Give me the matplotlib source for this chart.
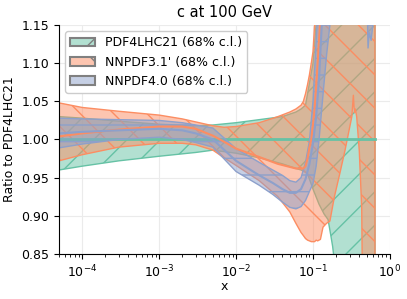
import matplotlib
matplotlib.use("Agg")
import matplotlib.pyplot as plt
from matplotlib.patches import Patch

# couleurs (palette Set2)
VERT = "#66c2a5"
ORANGE = "#fc8d62"
BLEU = "#8da0cb"

# PDF4LHC21
x_pdf4lhc = [5e-5, 1e-4, 3e-4, 1e-3, 3e-3, 5e-3, 1e-2, 2e-2, 4e-2, 6e-2, 7e-2,
             8e-2, 8.5e-2, 0.1, 0.12, 0.14, 0.157, 0.17, 0.18, 0.19, 0.3, 0.5, 0.64]
pdf4lhc_cv = [1.0] * len(x_pdf4lhc)
pdf4lhc_lo = [0.96, 0.965, 0.972, 0.978, 0.983, 0.986, 0.982, 0.976, 0.968, 0.962, 0.96,
              0.957, 0.955, 0.935, 0.915, 0.902, 0.895, 0.875, 0.86, 0.84, 0.7, 0.7, 0.7]
pdf4lhc_hi = [1.03, 1.028, 1.024, 1.02, 1.018, 1.019, 1.022, 1.026, 1.03, 1.036, 1.04,
              1.045, 1.06, 1.1, 1.2, 1.4, 1.4, 1.4, 1.4, 1.4, 1.4, 1.4, 1.4]

# NNPDF3.1'
x_nnpdf31 = [5e-5, 1e-4, 3e-4, 1e-3, 2e-3, 3e-3, 5e-3, 7e-3, 1e-2, 2e-2, 3.5e-2, 5e-2,
             6e-2, 7e-2, 7.5e-2, 8e-2, 8.5e-2, 9e-2, 9.5e-2, 0.1, 0.105, 0.11, 0.115,
             0.125, 0.135, 0.15, 0.166, 0.19, 0.224, 0.26, 0.3, 0.32, 0.335, 0.345,
             0.355, 0.37, 0.4, 0.43, 0.45, 0.64]
nnpdf31_cv = [1.004, 1.008, 1.013, 1.017, 1.017, 1.014, 1.005, 0.997, 0.988, 0.977,
              0.968, 0.964, 0.962, 0.962, 0.962, 0.965, 0.975, 0.99, 1.0, 1.02, 1.04,
              1.07, 1.1, 1.16, 1.25, 1.3, 1.3, 1.3, 1.3, 1.3, 1.3, 1.3, 1.3, 1.3,
              1.3, 1.3, 1.3, 1.3, 1.3, 1.3]
nnpdf31_lo = [0.972, 0.98, 0.99, 0.995, 0.995, 0.993, 0.986, 0.976, 0.966, 0.946, 0.925,
              0.905, 0.89, 0.878, 0.874, 0.87, 0.868, 0.867, 0.866, 0.866, 0.866, 0.868,
              0.867, 0.869, 0.885, 0.89, 0.893, 0.925, 0.956, 0.985, 1.016, 1.03, 1.058,
              1.035, 1.04, 1.03, 0.985, 0.91, 0.7, 0.7]
nnpdf31_hi = [1.048, 1.042, 1.037, 1.032, 1.027, 1.023, 1.018, 1.016, 1.017, 1.022,
              1.03, 1.036, 1.04, 1.045, 1.05, 1.06, 1.072, 1.085, 1.1, 1.115, 1.15,
              1.2, 1.3, 1.3, 1.3, 1.3, 1.3, 1.3, 1.3, 1.3, 1.3, 1.3, 1.3, 1.3, 1.3,
              1.3, 1.3, 1.3, 1.3, 1.3]

# NNPDF4.0
x_nnpdf40 = [5e-5, 1e-4, 3e-4, 1e-3, 2e-3, 3e-3, 5e-3, 1e-2, 2e-2, 3e-2, 4e-2, 5e-2,
             6e-2, 7e-2, 8e-2, 9e-2, 0.1, 0.11, 0.12, 0.13, 0.15, 0.17, 0.3, 0.5,
             0.52, 0.54, 0.57, 0.6, 0.62, 0.64]
nnpdf40_cv = [1.008, 1.01, 1.012, 1.014, 1.012, 1.008, 1.0, 0.972, 0.953, 0.943, 0.935,
              0.93, 0.93, 0.935, 0.948, 0.968, 0.995, 1.03, 1.08, 1.15, 1.3, 1.3, 1.3,
              1.3, 1.3, 1.3, 1.3, 1.3, 1.3, 1.3]
nnpdf40_lo = [0.989, 0.994, 1.0, 1.003, 1.0, 0.996, 0.99, 0.958, 0.94, 0.928, 0.918,
              0.911, 0.909, 0.912, 0.92, 0.932, 0.942, 0.965, 1.0, 1.04, 1.11, 1.16,
              1.3, 1.2, 1.12, 1.14, 1.13, 1.15, 1.25, 1.3]
nnpdf40_hi = [1.028, 1.027, 1.026, 1.025, 1.022, 1.019, 1.015, 0.988, 0.97, 0.96, 0.953,
              0.946, 0.944, 0.95, 0.97, 0.998, 1.05, 1.13, 1.2, 1.3, 1.4, 1.4, 1.4,
              1.4, 1.4, 1.4, 1.4, 1.4, 1.4, 1.4]

y_ticks = [0.85, 0.90, 0.95, 1.00, 1.05, 1.10, 1.15]


def bande(ax, x, lo, hi, couleur, hachure, z):
    ax.fill_between(x, lo, hi, facecolor=matplotlib.colors.to_rgba(couleur, 0.5),
                    edgecolor=couleur, hatch=hachure, linewidth=1.0, zorder=z)


fig = plt.figure(figsize=(4.07, 2.99), dpi=100)
ax = fig.add_axes([0.145, 0.151, 0.813, 0.765])

bande(ax, x_pdf4lhc, pdf4lhc_lo, pdf4lhc_hi, VERT, "/", 1.0)
bande(ax, x_nnpdf31, nnpdf31_lo, nnpdf31_hi, ORANGE, "\\", 1.1)
ax.plot(x_pdf4lhc, pdf4lhc_cv, color=VERT, lw=2.0, zorder=1.5)
bande(ax, x_nnpdf40, nnpdf40_lo, nnpdf40_hi, BLEU, "-", 1.6)
ax.plot(x_nnpdf31, nnpdf31_cv, color=ORANGE, lw=1.5, zorder=1.7)
ax.plot(x_nnpdf40, nnpdf40_cv, color=BLEU, lw=1.5, zorder=1.8)

ax.set_xscale("log")
ax.set_xlim(5e-5, 1)
ax.set_ylim(0.85, 1.15)
ax.set_yticks(y_ticks)
ax.set_yticklabels([f"{v:.2f}" for v in y_ticks])
ax.grid(True, which="major", color="#ebebeb", lw=0.8, zorder=0)
ax.set_axisbelow(True)
for s in ["top", "right"]:
    ax.spines[s].set_visible(False)
ax.tick_params(labelsize=9)

ax.set_title("c at 100 GeV", fontsize=10.5)
ax.set_xlabel("x", fontsize=9, labelpad=0)
ax.set_ylabel("Ratio to PDF4LHC21", fontsize=9)

legende = [
    Patch(facecolor=matplotlib.colors.to_rgba(VERT, 0.5), edgecolor="gray", hatch="/",
          lw=1.5, label="PDF4LHC21 (68% c.l.)"),
    Patch(facecolor=matplotlib.colors.to_rgba(ORANGE, 0.5), edgecolor="gray", hatch="\\",
          lw=1.5, label="NNPDF3.1' (68% c.l.)"),
    Patch(facecolor=matplotlib.colors.to_rgba(BLEU, 0.5), edgecolor="gray", hatch="",
          lw=1.5, label="NNPDF4.0 (68% c.l.)"),
]
ax.legend(handles=legende, loc="upper left", fontsize=9, framealpha=1.0)

fig.savefig("out.png", dpi=100)
